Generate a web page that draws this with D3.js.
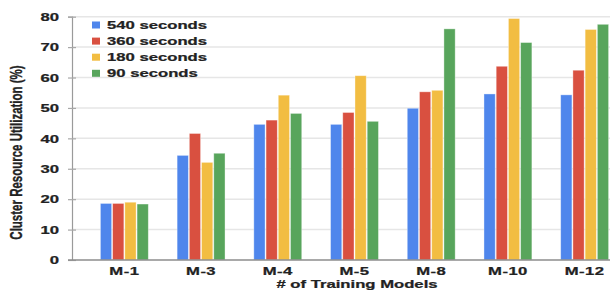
<!DOCTYPE html>
<html>
<head>
<meta charset="utf-8">
<script src="https://cdn.jsdelivr.net/npm/d3@7"></script>
<style>
  body { margin: 0; background: #fff; }
  svg { display: block; }
  text { font-family: "Liberation Sans", Arial, sans-serif; font-weight: bold; fill: #222; stroke: #222; stroke-width: 0.25px; }
</style>
</head>
<body>
<svg id="chart" width="610" height="291"></svg>
<script>
// chart data
const models = ['M-1', 'M-3', 'M-4', 'M-5', 'M-8', 'M-10', 'M-12']
const seriesNames = ['540 seconds', '360 seconds', '180 seconds', '90 seconds']
const s540 = [18.6, 34.4, 44.6, 44.6, 49.9, 54.6, 54.3]
const s360 = [18.6, 41.6, 46.0, 48.5, 55.3, 63.7, 62.4]
const s180 = [19.0, 32.1, 54.2, 60.6, 55.8, 79.4, 75.8]
const s90 = [18.4, 35.1, 48.2, 45.6, 76.0, 71.5, 77.5]
const yTicks = [0, 10, 20, 30, 40, 50, 60, 70, 80]

const colors = ['#4f86ec', '#d95040', '#f2bd42', '#58a55c']
const series = [s540, s360, s180, s90]

// text in the picture is stretched sideways
const SX = 1.45

const svg = d3.select('#chart')

const y = d3.scaleLinear().domain([0, 80]).range([260, 16.7])
const x = d3.scaleBand().domain(models).range([86, 623])
  .paddingInner(0.35).paddingOuter(0.175)
const xi = d3.scaleBand().domain(d3.range(series.length))
  .range([0, x.bandwidth()]).padding(0.08)

// gridlines
svg.append('g').selectAll('line')
  .data(yTicks.filter(d => d > 0))
  .join('line')
  .attr('x1', 72).attr('x2', 610)
  .attr('y1', d => y(d)).attr('y2', d => y(d))
  .attr('stroke', '#e6e6e6').attr('stroke-width', 1.5)

// bars
const rows = models.map((m, i) => ({ m, vals: series.map(s => s[i]) }))
svg.append('g').selectAll('g')
  .data(rows)
  .join('g')
  .attr('transform', d => `translate(${x(d.m)},0)`)
  .selectAll('rect')
  .data(d => d.vals.map((v, k) => ({ v, k })))
  .join('rect')
  .attr('x', d => xi(d.k))
  .attr('width', xi.bandwidth())
  .attr('y', d => y(d.v))
  .attr('height', d => y(0) - y(d.v))
  .attr('fill', d => colors[d.k])
  .attr('stroke', 'rgba(255,255,255,0.45)')
  .attr('stroke-width', 0.8)

// y axis
const yAxis = svg.append('g')
  .attr('transform', 'translate(72,0)')
  .call(d3.axisLeft(y).tickValues(yTicks).tickSize(4).tickPadding(13))
yAxis.select('.domain').attr('stroke', '#9a9a9a').attr('stroke-width', 1.2)
yAxis.selectAll('.tick line').attr('x2', 4).attr('x1', -4)
  .attr('stroke', '#a8a8a8').attr('stroke-width', 1.2)
yAxis.selectAll('.tick text')
  .attr('x', 0)
  .attr('transform', 'translate(-13,0) scale(' + SX + ',1)')
  .style('font-size', '11.5px').attr('fill', '#222')

// x baseline
svg.append('line')
  .attr('x1', 68).attr('x2', 610)
  .attr('y1', y(0)).attr('y2', y(0))
  .attr('stroke', '#8c8c8c').attr('stroke-width', 1.4)

// x tick labels
svg.append('g').selectAll('text')
  .data(models)
  .join('text')
  .attr('text-anchor', 'middle')
  .attr('transform', d => `translate(${x(d) + x.bandwidth() / 2},275) scale(${SX},1)`)
  .style('font-size', '11.5px')
  .style('letter-spacing', '0.3px')
  .text(d => d)

// axis titles
svg.append('text')
  .attr('text-anchor', 'middle')
  .attr('transform', `translate(357,288) scale(${SX},1)`)
  .style('font-size', '11.5px')
  .text('# of Training Models')

svg.append('text')
  .attr('text-anchor', 'middle')
  .attr('transform', `translate(22,152.5) rotate(-90) scale(1,${SX})`)
  .style('font-size', '11.5px')
  .text('Cluster Resource Utilization (%)')

// legend
const legend = svg.append('g').selectAll('g')
  .data(seriesNames)
  .join('g')
  .attr('transform', (d, i) => `translate(92,${25 + i * 16.1})`)
legend.append('rect')
  .attr('x', 0).attr('y', -3.5)
  .attr('width', 8).attr('height', 7)
  .attr('fill', (d, i) => colors[i])
legend.append('text')
  .attr('transform', `translate(15,4) scale(${SX},1)`)
  .style('font-size', '11.5px')
  .text(d => d)
</script>
</body>
</html>
